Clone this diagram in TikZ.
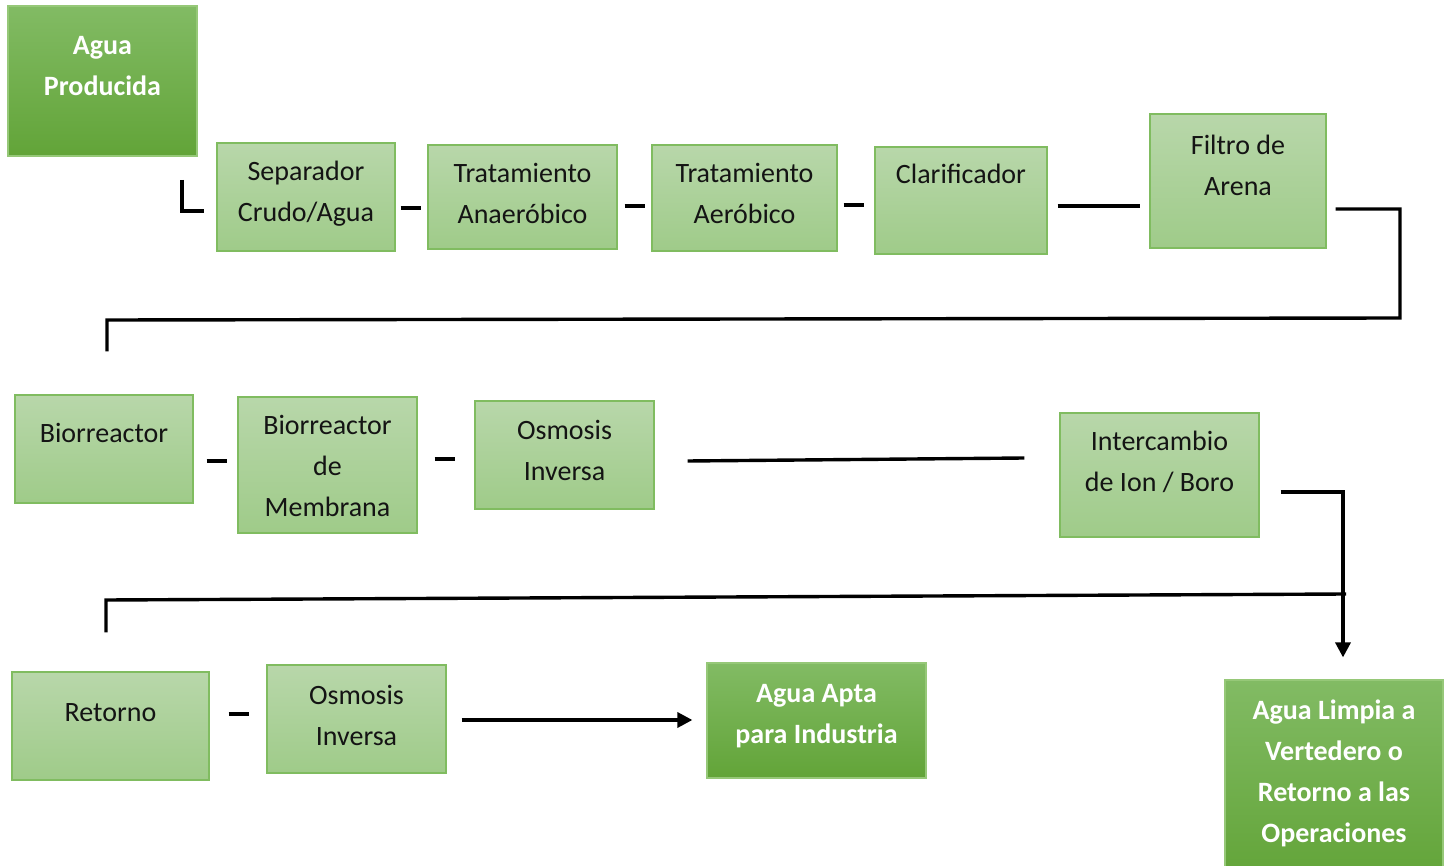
\documentclass[tikz,border=0pt]{standalone}
\usepackage{fontspec}
\setmainfont{Carlito}
\usetikzlibrary{arrows.meta, positioning}
\definecolor{lightT}{RGB}{184,215,170}
\definecolor{lightB}{RGB}{159,203,137}
\definecolor{edgeL}{RGB}{128,188,96}
\definecolor{darkT}{RGB}{130,187,100}
\definecolor{darkB}{RGB}{98,164,56}
\definecolor{edgeD}{RGB}{150,200,120}
\definecolor{ink}{RGB}{20,20,20}

\begin{document}
\begin{tikzpicture}[x=1pt,y=-1pt,>={Triangle[length=15pt,width=15pt]},
     font=\fontsize{28}{41}\selectfont,
     stagebox/.style={draw=edgeL,line width=1.2pt,top color=lightT,bottom color=lightB,inner sep=0pt},
     outbox/.style={draw=edgeD,line width=1.2pt,top color=darkT,bottom color=darkB,inner sep=0pt},
     txt/.style={align=center,anchor=base,inner sep=0pt,text=ink},
     outtxt/.style={align=center,anchor=base,inner sep=0pt,text=white,font=\fontsize{28}{41}\selectfont\bfseries},
     link/.style={line width=3.4pt}]
    \clip (0,0) rectangle (1452,866);
    % first row
    \node[outbox,minimum width=189pt,minimum height=150pt] (prod) at (102.5,81) {};
    \node[stagebox,minimum width=178pt,minimum height=108pt] (sep) at (306,197) {};
    \node[stagebox,minimum width=189pt,minimum height=104pt] (ana) at (522.5,197) {};
    \node[stagebox,minimum width=185pt,minimum height=106pt] (aer) at (744.5,198) {};
    \node[stagebox,minimum width=172pt,minimum height=107pt] (cla) at (961,200.5) {};
    \node[stagebox,minimum width=176pt,minimum height=134pt] (fil) at (1238,181) {};
    \node[outtxt] (prod-t) at (102.5,96) {Agua\\Producida};
    \node[txt] (sep-t) at (306,222) {Separador\\Crudo/Agua};
    \node[txt] (ana-t) at (522.5,224) {Tratamiento\\Anaeróbico};
    \node[txt] (aer-t) at (744.5,224) {Tratamiento\\Aeróbico};
    \node[txt] (cla-t) at (961,184) {Clarificador};
    \node[txt] (fil-t) at (1238,196) {Filtro de\\Arena};
    % second row
    \node[stagebox,minimum width=178pt,minimum height=108pt] (bio) at (104,449) {};
    \node[stagebox,minimum width=179pt,minimum height=136pt] (brm) at (327.5,465) {};
    \node[stagebox,minimum width=179pt,minimum height=108pt] (osm) at (564.5,455) {};
    \node[stagebox,minimum width=199pt,minimum height=124pt] (ion) at (1159.5,475) {};
    \node[txt] (bio-t) at (104,443) {Biorreactor};
    \node[txt] (brm-t) at (327.5,517) {Biorreactor\\de\\Membrana};
    \node[txt] (osm-t) at (564.5,481) {Osmosis\\Inversa};
    \node[txt] (ion-t) at (1159.5,492) {Intercambio\\de Ion / Boro};
    % third row
    \node[stagebox,minimum width=197pt,minimum height=108pt] (ret) at (110.5,726) {};
    \node[stagebox,minimum width=179pt,minimum height=108pt] (osm2) at (356.5,719) {};
    \node[outbox,minimum width=219pt,minimum height=115pt] (apta) at (816.5,720.5) {};
    \node[outbox,minimum width=218pt,minimum height=200pt] (lim) at (1334,780) {};
    \node[txt] (ret-t) at (110.5,721) {Retorno};
    \node[txt] (osm2-t) at (356.5,745) {Osmosis\\Inversa};
    \node[outtxt] (apta-t) at (816.5,743) {Agua Apta\\para Industria};
    \node[outtxt] (lim-t) at (1334,842) {Agua Limpia a\\Vertedero o\\Retorno a las\\Operaciones};
    % connectors
    \coordinate (l1) at (182,180);
    \coordinate (j1) at (1400,318);
    \coordinate (j2) at (1346,594);
    \draw[link] (l1) |- ([shift={(-12,14)}]sep.west);
    \draw[link] ([shift={(5,11)}]sep.east) -- ([shift={(-6,11)}]ana.west);
    \draw[link] ([shift={(7,9)}]ana.east) -- ([shift={(-6,8)}]aer.west);
    \draw[link] ([shift={(6,7)}]aer.east) -- ([shift={(-10,4.5)}]cla.west);
    \draw[link] ([shift={(10,5.5)}]cla.east) -- ([shift={(-9,25)}]fil.west);
    \draw[link] ([shift={(9,28)}]fil.east) -| (j1) -- (107,320) -- ([shift={(3,-43)}]bio.north);
    \draw[link] ([shift={(13,12)}]bio.east) -- ([shift={(-10,-4)}]brm.west);
    \draw[link] ([shift={(17,-6)}]brm.east) -- ([shift={(-19,4)}]osm.west);
    \draw[link] ([shift={(33,6)}]osm.east) -- ([shift={(-35,-17)}]ion.west);
    \draw[link,->] ([shift={(21,17)}]ion.east) -| ([shift={(9,-22)}]lim.north);
    \draw[link] (j2) -- (106,600) -- ([shift={(-4.5,-39)}]ret.north);
    \draw[link] ([shift={(19,-12)}]ret.east) -- ([shift={(-17,-5)}]osm2.west);
    \draw[link,->] ([shift={(15,1)}]osm2.east) -- ([shift={(-14,-0.5)}]apta.west);
\end{tikzpicture}
\end{document}
